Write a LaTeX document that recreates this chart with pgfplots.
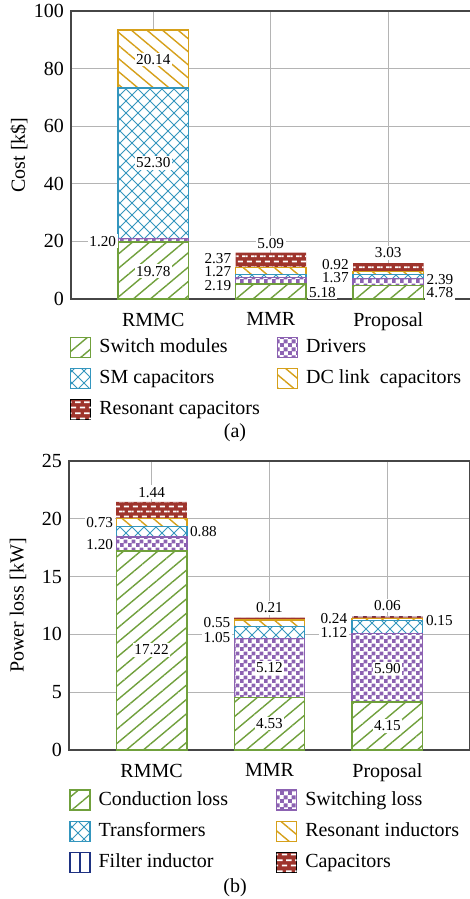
\documentclass[border=0pt]{standalone}
\usepackage{pgfplots}
\pgfplotsset{compat=1.18}
\usepackage{fontspec}
\setmainfont{Liberation Serif}
\usetikzlibrary{patterns,patterns.meta}

\definecolor{cGreen}{RGB}{112,160,60}
\definecolor{cPurple}{RGB}{140,98,178}
\definecolor{cBlue}{RGB}{52,150,190}
\definecolor{cOrange}{RGB}{214,160,26}
\definecolor{cRed}{RGB}{158,52,44}
\definecolor{cNavy}{RGB}{30,50,130}
\definecolor{cGrid}{RGB}{180,180,180}
\definecolor{cAxis}{RGB}{70,70,70}

% checkerboard tiles
\pgfdeclarepatternformonly{checker}{\pgfpointorigin}{\pgfpoint{4pt}{4pt}}{\pgfpoint{4pt}{4pt}}{%
  \pgfpathrectangle{\pgfpointorigin}{\pgfpoint{2.1pt}{2.1pt}}%
  \pgfpathrectangle{\pgfpoint{2pt}{2pt}}{\pgfpoint{2.1pt}{2.1pt}}%
  \pgfusepath{fill}}
% wide diagonal crosshatch
\pgfdeclarepatternformonly{diamonds}{\pgfpoint{-0.5pt}{-0.5pt}}{\pgfpoint{6.5pt}{6.5pt}}{\pgfpoint{6pt}{6pt}}{%
  \pgfsetlinewidth{0.5pt}%
  \pgfpathmoveto{\pgfpointorigin}\pgfpathlineto{\pgfpoint{6pt}{6pt}}%
  \pgfpathmoveto{\pgfpoint{0pt}{6pt}}\pgfpathlineto{\pgfpoint{6pt}{0pt}}%
  \pgfusepath{stroke}}
% staggered rows of short dashes
\pgfdeclarepatternformonly{dashrows}{\pgfpointorigin}{\pgfpoint{4.4pt}{5.2pt}}{\pgfpoint{4.4pt}{5.2pt}}{%
  \pgfpathrectangle{\pgfpoint{0.4pt}{0.9pt}}{\pgfpoint{2.6pt}{0.9pt}}%
  \pgfpathrectangle{\pgfpoint{2.6pt}{3.5pt}}{\pgfpoint{1.8pt}{0.9pt}}%
  \pgfpathrectangle{\pgfpoint{0pt}{3.5pt}}{\pgfpoint{0.8pt}{0.9pt}}%
  \pgfusepath{fill}}

\tikzset{val/.style={fill=white, inner sep=0.8pt, font=\fontsize{7.6}{9}\selectfont}}

\pgfplotsset{
  layer green/.style={draw=cGreen, line width=0.6pt, fill=white,
    postaction={pattern={Lines[angle=40,distance=5.5pt,line width=0.7pt]}, pattern color=cGreen}},
  layer purple/.style={draw=cPurple, line width=0.6pt, fill=white,
    postaction={pattern=checker, pattern color=cPurple}},
  layer blue/.style={draw=cBlue, line width=0.6pt, fill=white,
    postaction={pattern=diamonds, pattern color=cBlue}},
  layer orange/.style={draw=cOrange, line width=0.6pt, fill=white,
    postaction={pattern={Lines[angle=-40,distance=5pt,line width=0.7pt]}, pattern color=cOrange}},
  % no outline, so a zero-height layer leaves no trace
  layer red/.style={draw=none, fill=cRed,
    postaction={pattern=dashrows, pattern color=white}},
  layer navy/.style={draw=none, fill=cNavy},
  box legend/.style={legend image code/.code={\draw[##1] (0pt,-5pt) rectangle (10pt,5pt);}},
  navy legend/.style={legend image code/.code={%
    \draw[cNavy, line width=0.6pt, fill=white] (0pt,-5pt) rectangle (10pt,5pt);
    \draw[cNavy, line width=0.6pt] (5pt,-5pt) -- (5pt,5pt);}},
  stackbars/.style={
    scale only axis, ybar stacked, bar width=0.6,
    xmin=-0.7, xmax=2.7, ymin=0,
    xtick={0,1,2}, xticklabels={RMMC,MMR,Proposal},
    grid=major, grid style={cGrid, line width=0.5pt},
    major tick length=0pt,
    axis line style={cAxis, line width=0.8pt},
    tick label style={font=\fontsize{10}{12}\selectfont},
    xticklabel style={yshift=-3.4pt},
    /pgf/number format/assume math mode=true,
    label style={font=\fontsize{10}{12}\selectfont},
    legend columns=2,
    legend cell align=left,
    legend style={draw=none, fill=none, inner sep=0pt, anchor=north west,
      font=\fontsize{10}{12}\selectfont,
      nodes={inner sep=0pt, text height=7pt, text depth=2pt},
      row sep=5pt,
      /tikz/every odd column/.append style={column sep=4pt}},
  },
}

\begin{document}
\begin{tikzpicture}
\useasboundingbox (0,0) rectangle (235pt,-449.5pt);

% (a) cost breakdown
\begin{axis}[stackbars, at={(35.5pt,-5.5pt)}, anchor=north west,
  width=199.75pt, height=144pt, ymax=100, ytick={0,20,...,100},
  ylabel={Cost [k\$]}, ylabel style={at={(axis description cs:-0.13,0.5)}, anchor=center},
  legend style={at={(axis description cs:-0.003,-0.13)},
    /tikz/every even column/.append style={column sep=8.5pt}}]
\addplot[layer green, box legend] coordinates {(0,19.78) (1,5.18) (2,4.78)};
\addlegendentry{Switch modules}
\addplot[layer purple, box legend] coordinates {(0,1.20) (1,2.19) (2,2.39)};
\addlegendentry{Drivers}
\addplot[layer blue, box legend] coordinates {(0,52.30) (1,1.27) (2,1.37)};
\addlegendentry{SM capacitors}
\addplot[layer orange, box legend] coordinates {(0,20.14) (1,2.37) (2,0.92)};
\addlegendentry{DC link\ \ capacitors}
\addplot[layer red, box legend] coordinates {(0,0) (1,5.09) (2,3.03)};
\addlegendentry{Resonant capacitors}

% anchor points for the value labels, drawn once the bars are done
\coordinate (a1) at (axis cs:0,83.1);
\coordinate (a2) at (axis cs:0,47.3);
\coordinate (a3) at (axis cs:-0.30,20.1);
\coordinate (a4) at (axis cs:0,9.7);
\coordinate (a5) at (axis cs:1,19.4);
\coordinate (a6) at (axis cs:0.68,14.2);
\coordinate (a7) at (axis cs:0.68,9.4);
\coordinate (a8) at (axis cs:0.68,4.5);
\coordinate (a9) at (axis cs:1.31,2.4);
\coordinate (a10) at (axis cs:2,16.0);
\coordinate (a11) at (axis cs:1.68,11.8);
\coordinate (a12) at (axis cs:1.68,7.3);
\coordinate (a13) at (axis cs:2.31,6.9);
\coordinate (a14) at (axis cs:2.31,2.1);
\end{axis}

\node[val] at (a1) {20.14};
\node[val] at (a2) {52.30};
\node[val, anchor=east] at (a3) {1.20};
\node[val] at (a4) {19.78};
\node[val] at (a5) {5.09};
\node[val, anchor=east] at (a6) {2.37};
\node[val, anchor=east] at (a7) {1.27};
\node[val, anchor=east] at (a8) {2.19};
\node[val, anchor=west] at (a9) {5.18};
\node[val] at (a10) {3.03};
\node[val, anchor=east] at (a11) {0.92};
\node[val, anchor=east] at (a12) {1.37};
\node[val, anchor=west] at (a13) {2.39};
\node[val, anchor=west] at (a14) {4.78};

% (b) power loss breakdown
\begin{axis}[stackbars, at={(34.5pt,-230.5pt)}, anchor=north west,
  width=200.5pt, height=144.5pt, ymax=25, ytick={0,5,...,25},
  ylabel={Power loss [kW]}, ylabel style={at={(axis description cs:-0.127,0.5)}, anchor=center},
  legend style={at={(axis description cs:0,-0.135)},
    /tikz/every even column/.append style={column sep=24pt}}]
\addlegendimage{box legend, layer green}\addlegendentry{Conduction loss}
\addlegendimage{box legend, layer purple}\addlegendentry{Switching loss}
\addlegendimage{box legend, layer blue}\addlegendentry{Transformers}
\addlegendimage{box legend, layer orange}\addlegendentry{Resonant inductors}
\addlegendimage{navy legend}\addlegendentry{Filter inductor}
\addlegendimage{box legend, layer red}\addlegendentry{Capacitors}

\addplot[layer green, forget plot] coordinates {(0,17.22) (1,4.53) (2,4.15)};
\addplot[layer purple, forget plot] coordinates {(0,1.20) (1,5.12) (2,5.90)};
\addplot[layer blue, forget plot] coordinates {(0,0.88) (1,1.05) (2,1.12)};
\addplot[layer orange, forget plot] coordinates {(0,0.73) (1,0.55) (2,0.24)};
\addplot[layer red, forget plot] coordinates {(0,1.44) (1,0.21) (2,0.15)};
\addplot[layer navy, forget plot] coordinates {(0,0) (1,0) (2,0.06)};

\coordinate (b1) at (axis cs:0,22.3);
\coordinate (b2) at (axis cs:-0.31,19.7);
\coordinate (b3) at (axis cs:0.31,18.9);
\coordinate (b4) at (axis cs:-0.31,17.8);
\coordinate (b5) at (axis cs:0,8.65);
\coordinate (b6) at (axis cs:1,12.3);
\coordinate (b7) at (axis cs:0.685,11.0);
\coordinate (b8) at (axis cs:0.685,9.75);
\coordinate (b9) at (axis cs:1,7.1);
\coordinate (b10) at (axis cs:1,2.3);
\coordinate (b11) at (axis cs:2,12.5);
\coordinate (b12) at (axis cs:1.675,11.4);
\coordinate (b13) at (axis cs:1.675,10.15);
\coordinate (b14) at (axis cs:2.31,11.2);
\coordinate (b15) at (axis cs:2,7.07);
\coordinate (b16) at (axis cs:2,2.08);
\end{axis}

\node[val] at (b1) {1.44};
\node[val, anchor=east] at (b2) {0.73};
\node[val, anchor=west] at (b3) {0.88};
\node[val, anchor=east] at (b4) {1.20};
\node[val] at (b5) {17.22};
\node[val] at (b6) {0.21};
\node[val, anchor=east] at (b7) {0.55};
\node[val, anchor=east] at (b8) {1.05};
\node[val] at (b9) {5.12};
\node[val] at (b10) {4.53};
\node[val] at (b11) {0.06};
\node[val, anchor=east] at (b12) {0.24};
\node[val, anchor=east] at (b13) {1.12};
\node[val, anchor=west] at (b14) {0.15};
\node[val] at (b15) {5.90};
\node[val] at (b16) {4.15};

\node[font=\fontsize{10}{12}\selectfont] at (117.5pt,-216.5pt) {(a)};
\node[font=\fontsize{10}{12}\selectfont] at (117.5pt,-444pt) {(b)};
\end{tikzpicture}
\end{document}
